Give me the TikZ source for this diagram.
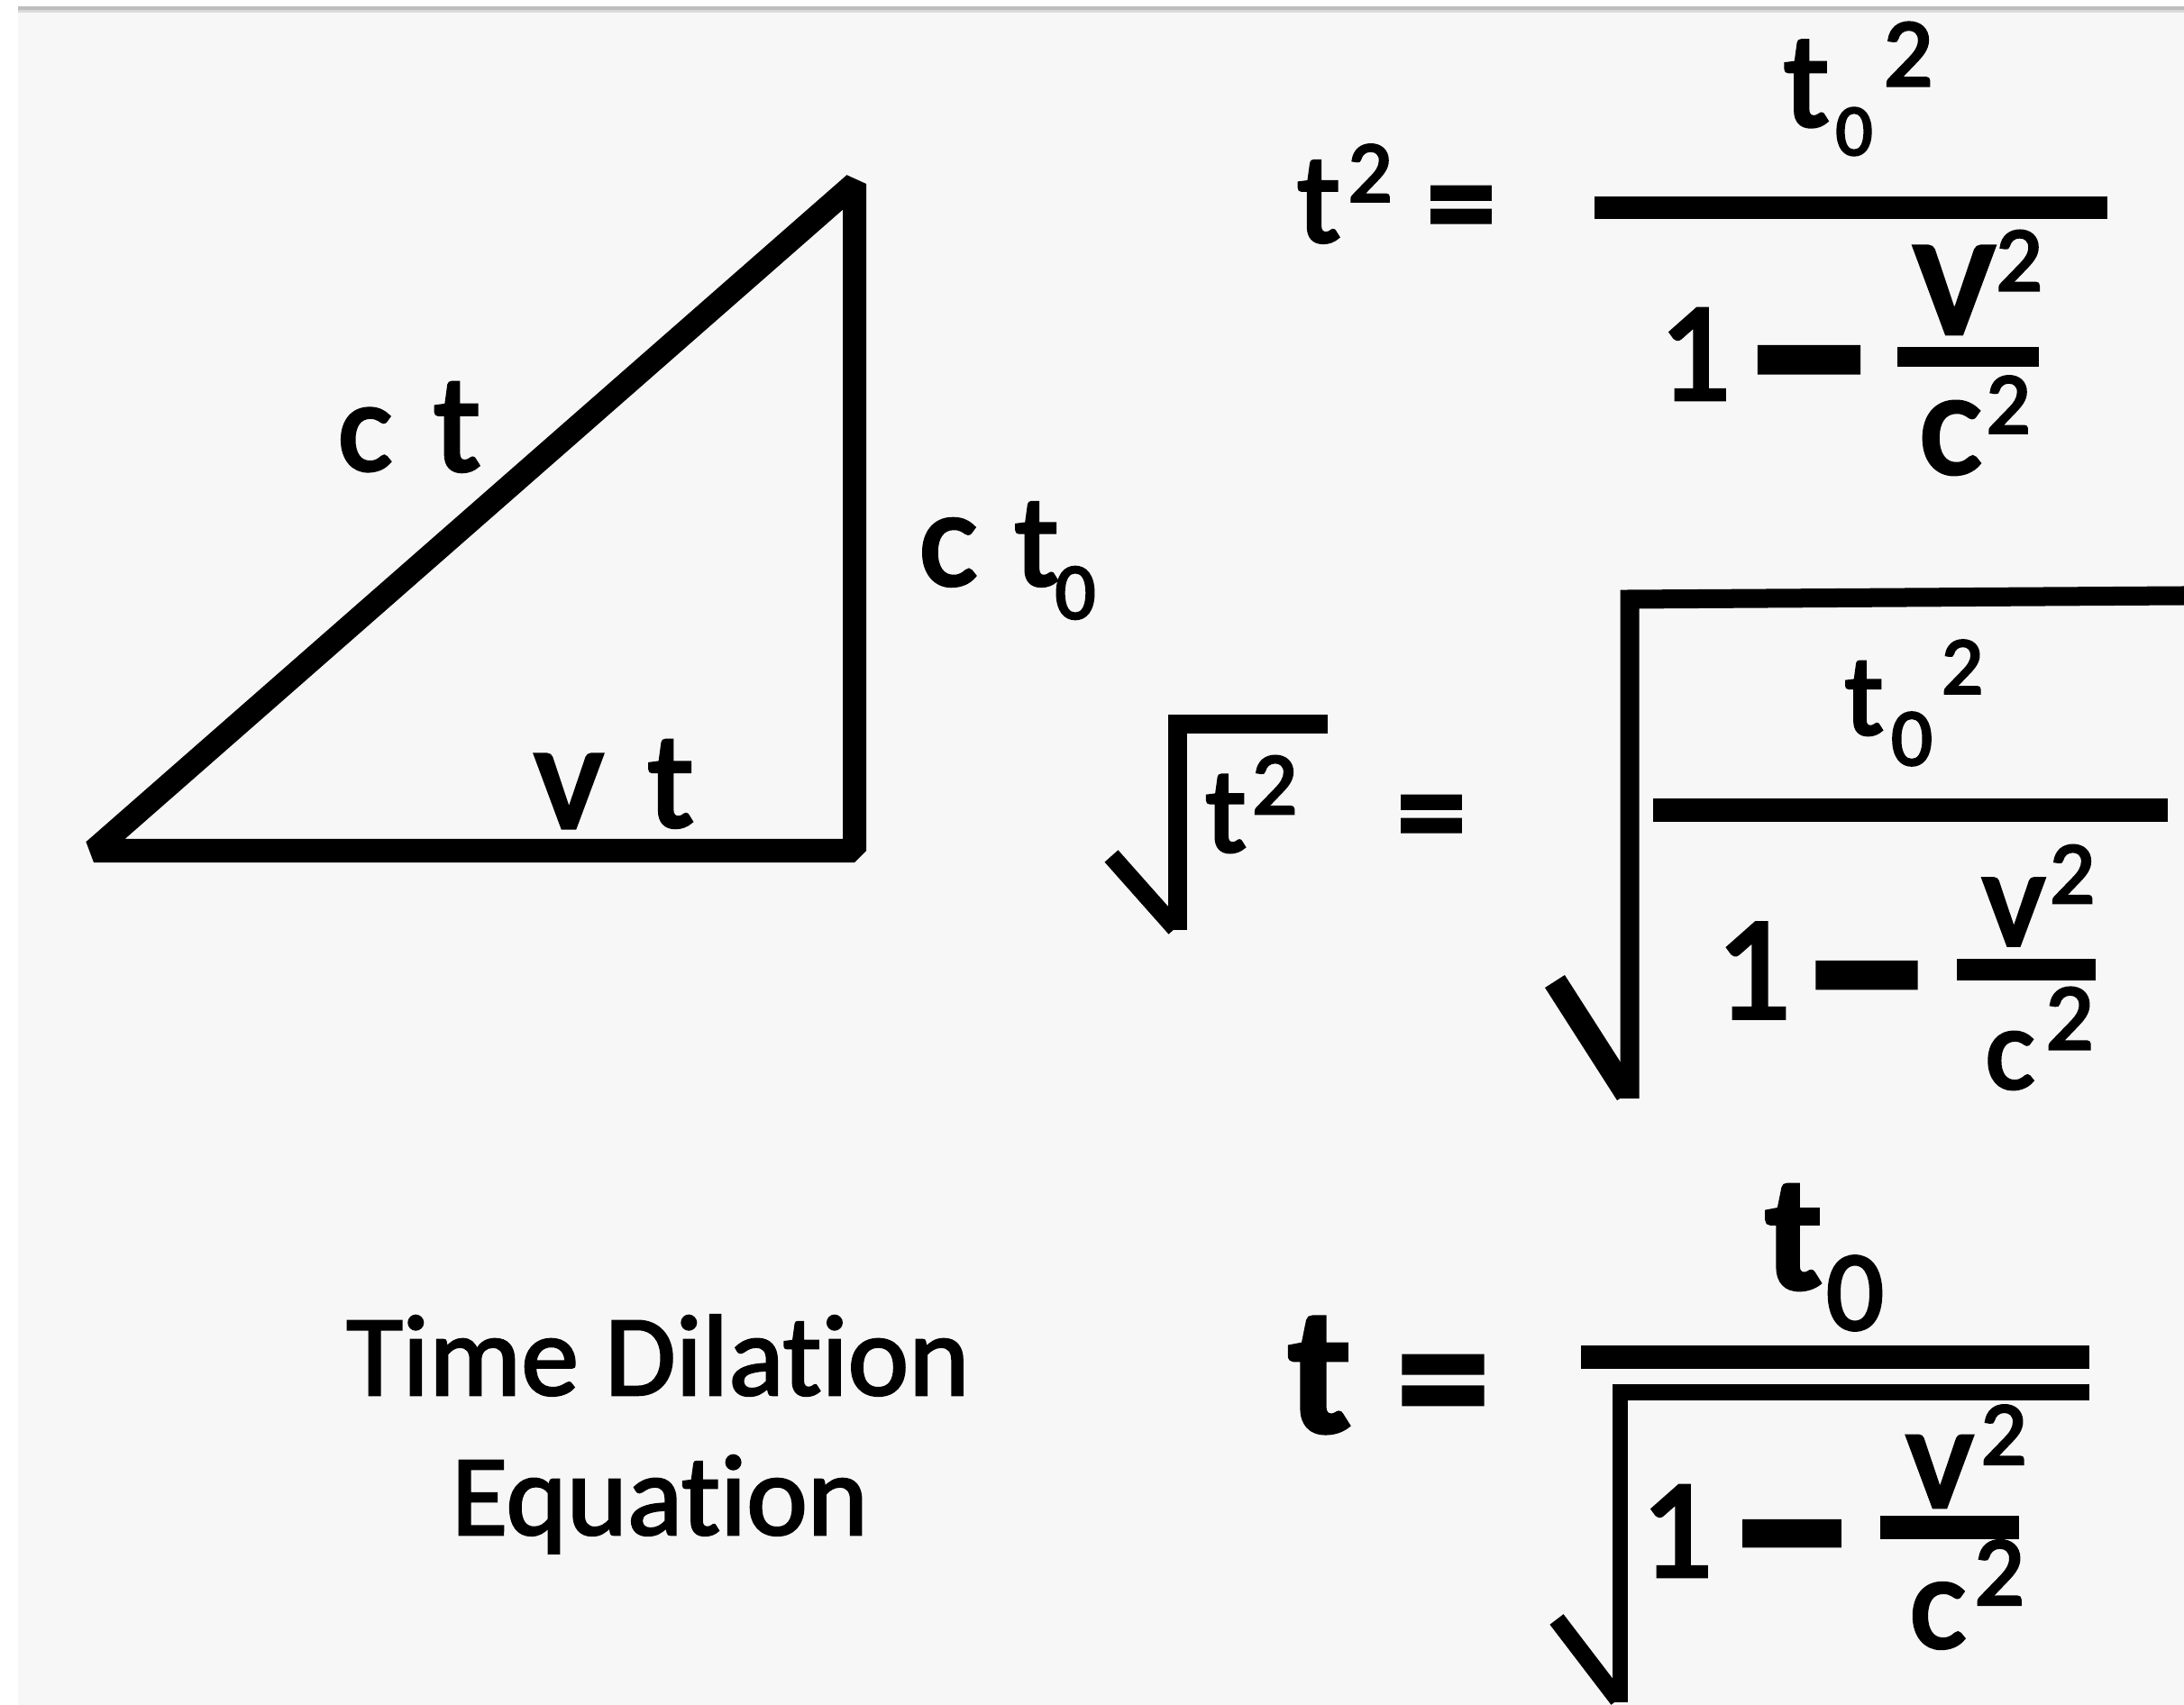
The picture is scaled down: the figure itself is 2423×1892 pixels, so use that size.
\documentclass[tikz,border=0pt]{standalone}
\usepackage{fontspec}
\setmainfont[Ligatures=NoCommon]{Carlito}
\newfontfamily\gf[Ligatures=NoCommon,FakeBold=3]{Carlito}
\newfontfamily\gbf[Ligatures=NoCommon,FakeBold=2]{Carlito Bold}
\newfontfamily\tf[Ligatures=NoCommon,FakeBold=2]{Carlito}
\usepackage{graphicx}
\newdimen\pxu \pxu=0.01cm
\definecolor{bg}{HTML}{F7F7F7}
\definecolor{rule}{HTML}{BDBDBD}
\tikzset{
  glyph/.style={inner sep=0pt, outer sep=0pt, anchor=center, text=black, font=\gf},
  sym/.style={inner sep=0pt, outer sep=0pt, anchor=base, text=black},
  bar/.style={line width=#1, line cap=butt},
  tri/.style={line width=0.26cm, line join=bevel},
  rad/.style={line width=#1, line join=miter, line cap=butt},
  caption/.style={inner sep=0pt, anchor=base, text=black, font=\tf\fontsize{128\pxu}{155\pxu}\selectfont},
}
\newcommand\gl[6][]{\node[glyph,#1] (#2) at (#3,#4) {\resizebox*{!}{#5\pxu}{#6}};}
\newcommand\sy[6][\gbf]{\node[sym] (#2) at (#3,#4) {#1\fontsize{#5\pxu}{#5\pxu}\selectfont #6};}
\begin{document}
\begin{tikzpicture}[x=0.01cm,y=-0.01cm]
\useasboundingbox (0,0) rectangle (2423,1892);
\fill[white] (0,0) rectangle (2423,1892);
\fill[bg] (20,7) rectangle (2423,1892);
\fill[rule] (20,7) rectangle (2423,11);
\fill[rule!50!bg] (20,11) rectangle (2423,14);

% triangle
\coordinate (A) at (104,944);
\coordinate (B) at (948,944);
\coordinate (C) at (948,204);
\draw[tri] (A) -- (B) -- (C) -- cycle;

% triangle labels
\gl{ctc}{405}{488}{69}{c}
\gl{ctt}{507}{474}{98}{t}
\gl{cttc}{1052}{613}{74}{c}
\gl{cttt}{1150}{604}{92}{t}
\gl{ctto}{1193}{658}{58}{0}
\gl{vtv}{631}{878}{80}{v}
\gl{vtt}{744}{870}{96}{t}

% Time Dilation Equation
\node[caption] (td1) at (730,1548) {Time Dilation};
\node[caption] (td2) at (732,1703) {Equation};

% ---------- equation 1 ----------
\gl{ea-t}{1463}{224}{90}{t}
\gl{ea-s}{1520}{192}{63}{2}
\sy{ea-eq}{1621}{276}{154}{=}
\coordinate (ea-b1) at (1769,231); \coordinate (ea-b2) at (2338,231);
\draw[bar=0.25cm] (ea-b1) -- (ea-b2);
\gl{ea-nt}{2004}{93}{95}{t}
\gl{ea-n0}{2057}{146}{53}{0}
\gl{ea-n2}{2117}{60}{70}{2}
\gl{ea-1}{1880}{393}{100}{1}
\sy{ea-m}{2007}{486}{306}{–}
\coordinate (ea-c1) at (2105,396); \coordinate (ea-c2) at (2262,396);
\draw[bar=0.22cm] (ea-c1) -- (ea-c2);
\gl{ea-v}{2168}{322}{95}{v}
\gl{ea-v2}{2240}{289}{66}{2}
\gl{ea-c}{2164}{486}{80}{c}
\gl{ea-c2}{2228}{449}{63}{2}

% ---------- equation 2 ----------
\coordinate (eb-r1) at (1233,950); \coordinate (eb-r2) at (1304,1030);
\coordinate (eb-r3) at (1306,1032); \coordinate (eb-r4) at (1306,804); \coordinate (eb-r5) at (1473,804);
\draw[bar=0.20cm] (eb-r1) -- (eb-r2);
\draw[rad=0.21cm] (eb-r3) -- (eb-r4) -- (eb-r5);
\gl{eb-t}{1360}{903}{85}{t}
\gl{eb-s}{1414}{871}{64}{2}
\sy{eb-eq}{1588}{952}{154}{=}
\coordinate (eb-R1) at (1725,1089); \coordinate (eb-R2) at (1805,1214);
\coordinate (eb-R3) at (1808,1219); \coordinate (eb-R4) at (1808,665); \coordinate (eb-R5) at (2423,661);
\draw[bar=0.26cm] (eb-R1) -- (eb-R2);
\draw[rad=0.21cm] (eb-R3) -- (eb-R4) -- (eb-R5);
\gl{eb-nt}{2068}{775}{81}{t}
\gl{eb-n0}{2121}{820}{59}{0}
\gl{eb-n2}{2177}{740}{59}{2}
\coordinate (eb-b1) at (1834,899); \coordinate (eb-b2) at (2405,899);
\draw[bar=0.26cm] (eb-b1) -- (eb-b2);
\gl{eb-1}{1945}{1077}{105}{1}
\sy{eb-m}{2071}{1168}{303}{–}
\coordinate (eb-c1) at (2171,1076); \coordinate (eb-c2) at (2325,1076);
\draw[bar=0.24cm] (eb-c1) -- (eb-c2);
\gl{eb-v}{2234}{1012}{73}{v}
\gl{eb-v2}{2299}{970}{64}{2}
\gl{eb-c}{2230}{1177}{63}{c}
\gl{eb-c2}{2296}{1130}{68}{2}

% ---------- equation 3 ----------
\gl[font=\gbf]{ec-t}{1464}{1526}{129}{t}
\sy{ec-eq}{1601}{1597}{207}{=}
\gl[font=\gbf]{ec-nt}{1990}{1373}{117}{t}
\gl{ec-n0}{2058}{1435}{82}{0}
\coordinate (ec-b1) at (1754,1506); \coordinate (ec-b2) at (2318,1506);
\draw[bar=0.25cm] (ec-b1) -- (ec-b2);
\coordinate (ec-R1) at (1727,1797); \coordinate (ec-R2) at (1795,1886);
\coordinate (ec-R3) at (1797,1889); \coordinate (ec-R4) at (1797,1545); \coordinate (ec-R5) at (2318,1545);
\draw[bar=0.19cm] (ec-R1) -- (ec-R2);
\draw[rad=0.17cm] (ec-R3) -- (ec-R4) -- (ec-R5);
\gl{ec-1}{1860}{1699}{100}{1}
\sy{ec-m}{1988}{1785}{294}{–}
\coordinate (ec-c1) at (2086,1695); \coordinate (ec-c2) at (2240,1695);
\draw[bar=0.25cm] (ec-c1) -- (ec-c2);
\gl{ec-v}{2152}{1633}{78}{v}
\gl{ec-v2}{2223}{1592}{65}{2}
\gl{ec-c}{2150}{1793}{72}{c}
\gl{ec-c2}{2218}{1745}{71}{2}
\end{tikzpicture}
\end{document}
